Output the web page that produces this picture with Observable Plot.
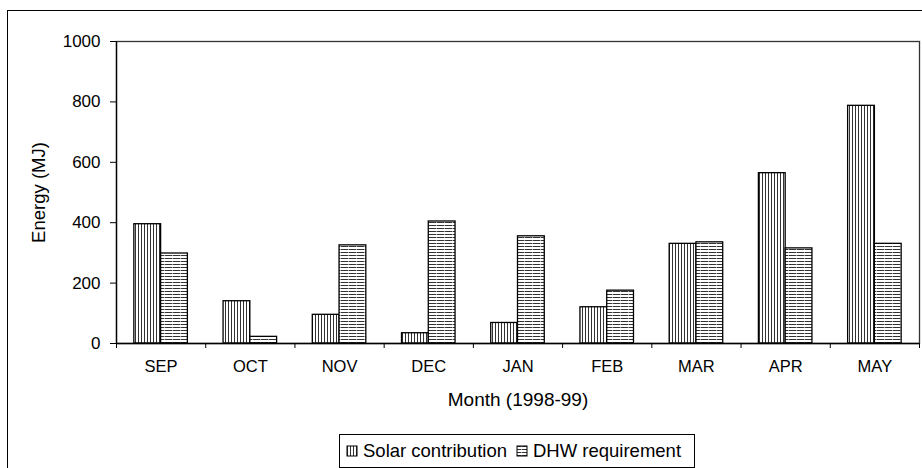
<!DOCTYPE html>
<html><head><meta charset="utf-8">
<script src="https://cdn.jsdelivr.net/npm/d3@7"></script>
<script src="https://cdn.jsdelivr.net/npm/@observablehq/plot@0.6"></script>
<style>
body{margin:0;background:#fff;}
#wrap{position:relative;width:922px;height:468px;overflow:hidden;font-family:"Liberation Sans",Arial,sans-serif;background:#fff;}
#outer{position:absolute;left:7px;top:10px;width:2000px;height:2000px;border-left:1px solid #000;border-top:1px solid #000;}
#chart{position:absolute;left:0;top:0;}
#legend{position:absolute;left:339px;top:434px;width:356px;height:34px;border:1px solid #000;box-sizing:border-box;background:#fff;}
#legend .lg-swatches{font-family:"Liberation Sans",Arial,sans-serif !important;font-size:18.5px !important;margin:0 !important;min-height:0 !important;height:32px;padding-left:7px;color:#000;display:flex;align-items:center;flex-wrap:nowrap;}
#legend .lg-swatch{margin-right:10px !important;display:inline-flex;align-items:center;white-space:nowrap;}
#legend .lg-swatch > svg{margin-right:6px !important;overflow:visible;}
#legend svg rect{stroke:#000;stroke-width:1;}
</style></head><body>
<div id="wrap"><div id="outer"></div><div id="chart"></div><div id="legend"></div></div>
<script>
const months = ["SEP","OCT","NOV","DEC","JAN","FEB","MAR","APR","MAY"];
const solar = [395, 140, 95, 34, 68, 120, 330, 564, 787];
const dhw = [298, 22, 325, 404, 355, 175, 335, 315, 330];
const seriesNames = ["Solar contribution", "DHW requirement"];
const yTicks = [0, 200, 400, 600, 800, 1000];
const xLabel = "Month (1998-99)";
const yLabel = "Energy (MJ)";

const barFrac = 0.3;
const rows = months.map((m, i) => ({month: m, i, solar: solar[i], dhw: dhw[i]}));
const fills = ["url(#pat-solar)", "url(#pat-dhw)"];
const font = "Liberation Sans, Arial, sans-serif";

const chart = Plot.plot({
  width: 922, height: 420,
  marginLeft: 116, marginRight: 3, marginTop: 41, marginBottom: 77,
  style: {fontFamily: font, background: "transparent", overflow: "visible", color: "#000"},
  x: {type: "linear", domain: [0, months.length]},
  y: {domain: [0, 1000]},
  marks: [
    Plot.rectY(rows, {x1: d => d.i + 0.5 - barFrac, x2: d => d.i + 0.5, y: "solar", fill: fills[0], stroke: "#000", strokeWidth: 1.3}),
    Plot.rectY(rows, {x1: d => d.i + 0.5, x2: d => d.i + 0.5 + barFrac, y: "dhw", fill: fills[1], stroke: "#000", strokeWidth: 1.3}),
    Plot.frame({stroke: "#333", strokeWidth: 1.3}),
    Plot.ruleY([0], {stroke: "#000", strokeWidth: 1.3}),
    Plot.ruleX([0], {stroke: "#000", strokeWidth: 1.3}),
    Plot.axisY({ticks: yTicks, tickSize: 6, tickPadding: 10, fontSize: 17, label: null, tickFormat: d => String(d)}),
    Plot.axisX({ticks: d3.range(months.length + 1), tickSize: 5, tickFormat: () => "", label: null}),
    Plot.axisX({ticks: months.map((m, i) => i + 0.5), tickSize: 0, tickPadding: 17, tickFormat: v => months[Math.floor(v)], fontSize: 16.5, label: null}),
    Plot.text([xLabel], {frameAnchor: "bottom", dy: 49, lineAnchor: "top", fontSize: 19, fill: "#000"}),
    Plot.text([yLabel], {frameAnchor: "left", dx: -77.5, rotate: -90, textAnchor: "middle", lineAnchor: "middle", fontSize: 18.5, fill: "#000"})
  ]
});

const defs = d3.select(chart).insert("defs", ":first-child");
const ps = defs.append("pattern").attr("id", "pat-solar").attr("patternUnits", "userSpaceOnUse").attr("width", 3).attr("height", 10);
ps.append("rect").attr("width", 3).attr("height", 10).attr("fill", "#fff");
ps.append("rect").attr("x", 0).attr("width", 1).attr("height", 10).attr("fill", "#333");
const pd = defs.append("pattern").attr("id", "pat-dhw").attr("patternUnits", "userSpaceOnUse").attr("width", 8).attr("height", 3);
pd.append("rect").attr("width", 8).attr("height", 3).attr("fill", "#fff");
pd.append("rect").attr("y", 0).attr("width", 8).attr("height", 1).attr("fill", "#333");
pd.append("rect").attr("x", 4).attr("y", 0).attr("width", 1).attr("height", 1).attr("fill", "#aaa");
document.getElementById("chart").appendChild(chart);

const legend = Plot.legend({
  color: {type: "ordinal", domain: seriesNames, range: fills},
  swatchSize: 10,
  className: "lg"
});
document.getElementById("legend").appendChild(legend);
</script>
</body></html>
